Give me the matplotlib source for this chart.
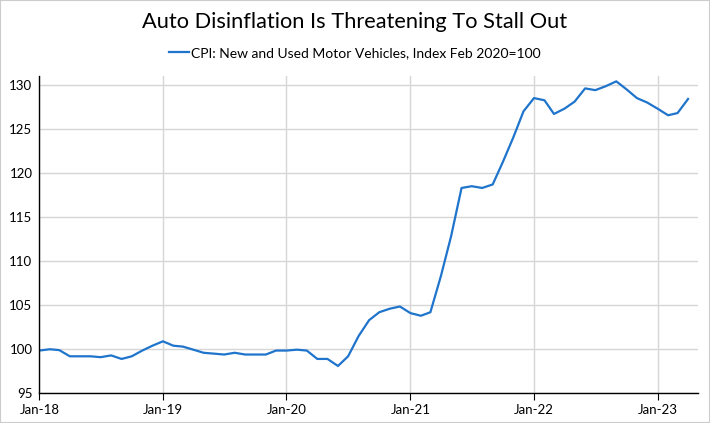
import matplotlib.pyplot as plt
import matplotlib.dates as mdates
import pandas as pd

plt.rcParams['font.family'] = ['Lato', 'DejaVu Sans']

# monthly index, Jan 2018 - Apr 2023 (Feb 2020 = 100)
dates = pd.date_range('2018-01-01', '2023-04-01', freq='MS')
cpi = [99.85, 100.0, 99.9, 99.2, 99.2, 99.2, 99.1, 99.3, 98.9, 99.2, 99.85, 100.4,
       100.9, 100.4, 100.3, 99.95, 99.6, 99.5, 99.4, 99.6, 99.4, 99.4, 99.4, 99.85,
       99.85, 99.95, 99.85, 98.9, 98.9, 98.1, 99.2, 101.5, 103.3, 104.2, 104.6, 104.85,
       104.1, 103.8, 104.2, 108.3, 112.8, 118.3, 118.5, 118.3, 118.7, 121.25, 124.05, 127.0,
       128.5, 128.25, 126.7, 127.3, 128.1, 129.6, 129.4, 129.85, 130.4, 129.5, 128.5, 128.0,
       127.3, 126.55, 126.8, 128.4]
series_name = 'CPI: New and Used Motor Vehicles, Index Feb 2020=100'
title = 'Auto Disinflation Is Threatening To Stall Out'

fig = plt.figure(figsize=(7.1, 4.23), dpi=100)
ax = fig.add_axes([0.0554, 0.0702, 0.928, 0.750])

ax.plot(dates, cpi, color='#1f74cc', linewidth=1.6, label=series_name)

ax.set_ylim(95, 131)
ax.set_yticks(range(95, 131, 5))
ax.set_xlim(pd.Timestamp('2018-01-01'), pd.Timestamp('2023-05-01'))
ax.xaxis.set_major_locator(mdates.YearLocator())
ax.xaxis.set_major_formatter(mdates.DateFormatter('%b-%y'))

ax.grid(True, color='#d6d6d6', linewidth=1)
ax.set_axisbelow(True)
for s in ['top', 'right']:
    ax.spines[s].set_visible(False)
for s in ['left', 'bottom']:
    ax.spines[s].set_color('black')
    ax.spines[s].set_linewidth(1)
ax.tick_params(axis='y', length=0, labelsize=9.5, pad=5)
ax.tick_params(axis='x', length=5, labelsize=9.5, pad=3)

fig.suptitle(title, fontsize=15.7, y=0.972)
fig.legend(loc='upper center', bbox_to_anchor=(0.5, 0.918), frameon=False,
           fontsize=10, handlelength=1.4, handletextpad=0.2)

# thin grey frame round the figure
fig.patches.append(plt.Rectangle((0, 0), 1, 1, transform=fig.transFigure,
                                 fill=False, edgecolor='#cccccc', linewidth=1.5))

fig.savefig('out.png', dpi=100)
